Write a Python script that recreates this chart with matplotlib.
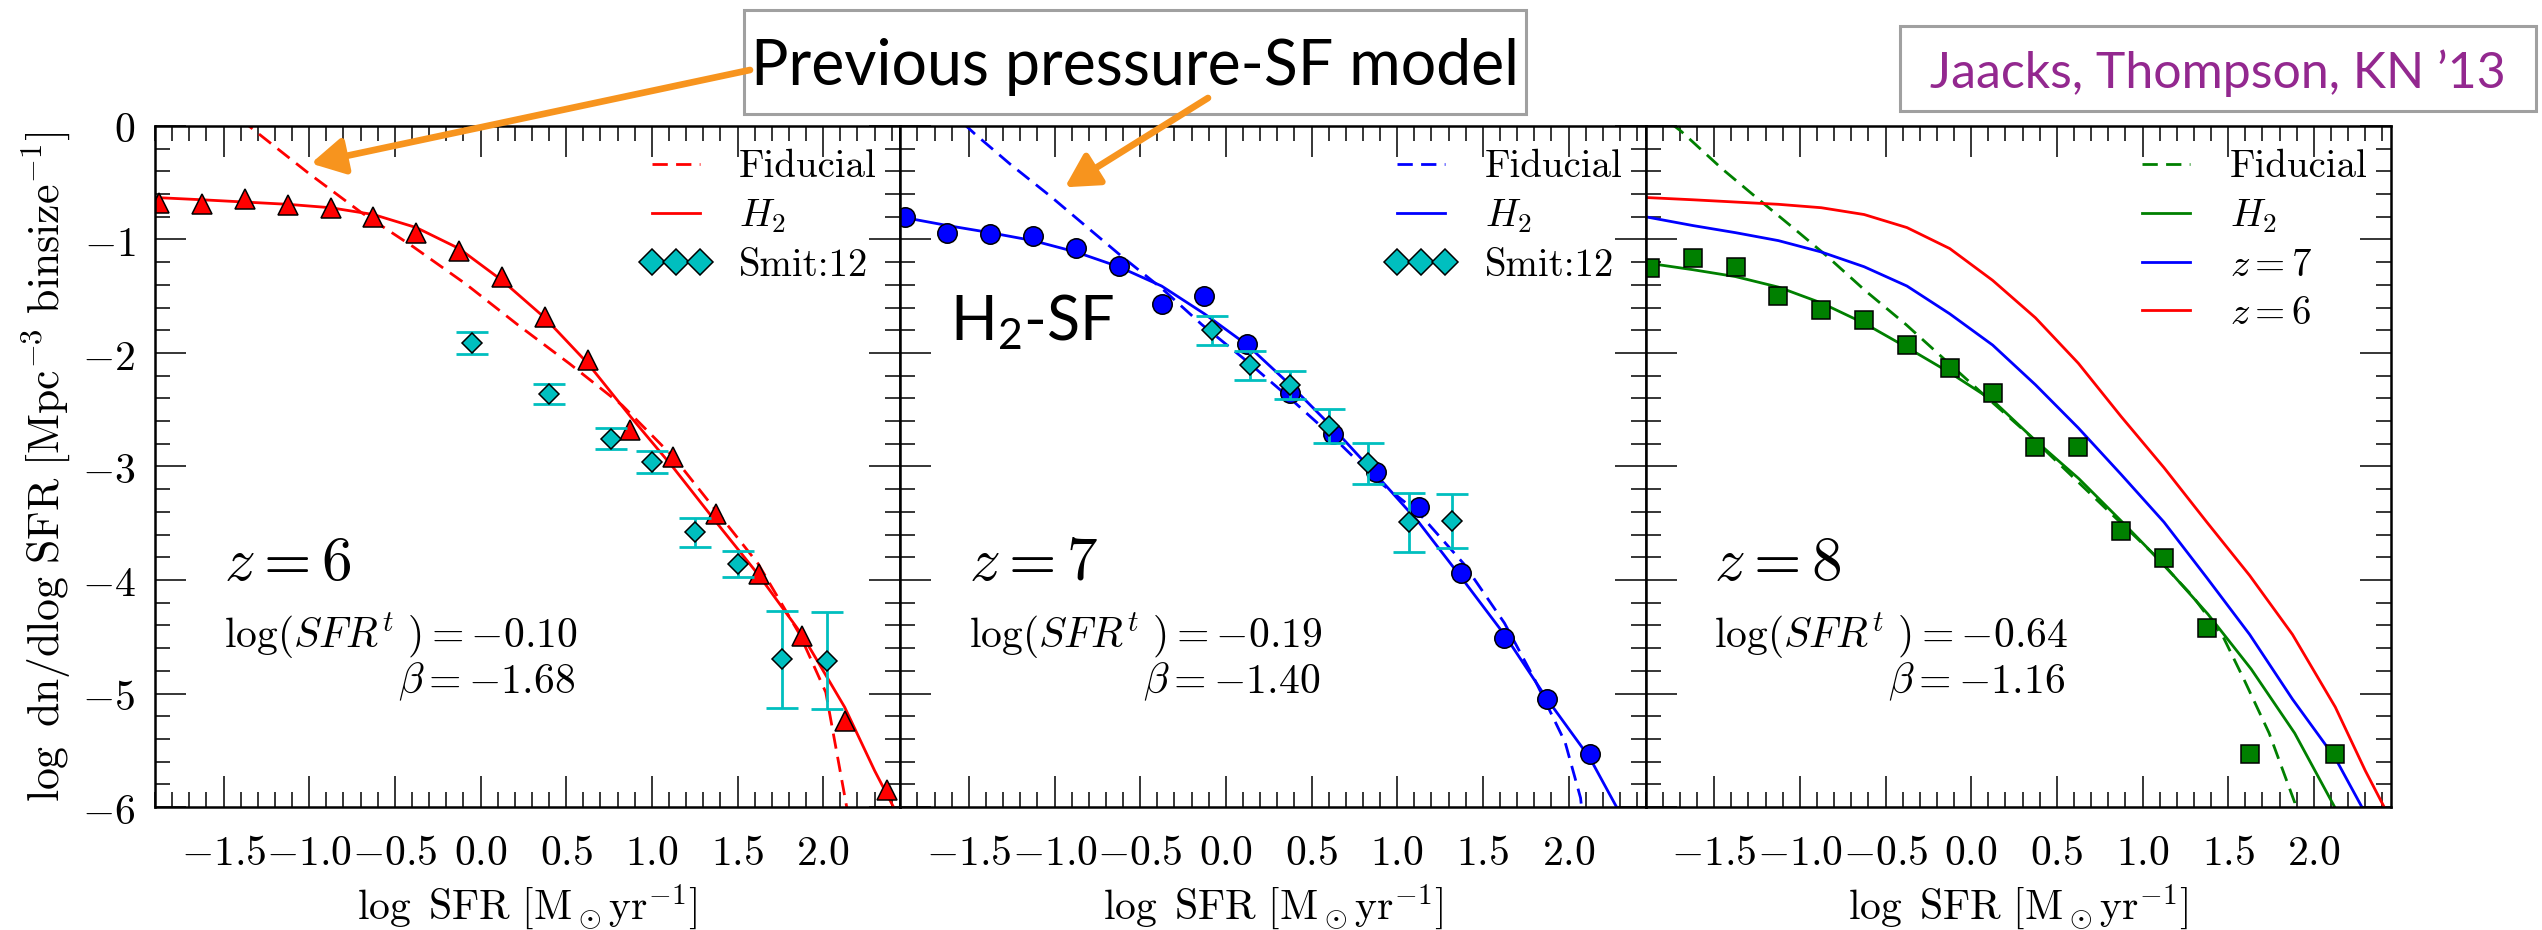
import matplotlib
matplotlib.use('Agg')
import matplotlib.pyplot as plt
from matplotlib.ticker import MultipleLocator
from matplotlib.patches import Rectangle

plt.rcParams['mathtext.fontset'] = 'cm'
plt.rcParams['mathtext.rm'] = 'Lato'
plt.rcParams['mathtext.it'] = 'Lato:italic'
plt.rcParams['mathtext.bf'] = 'Lato:bold'
plt.rcParams['mathtext.sf'] = 'Lato'
plt.rcParams['axes.unicode_minus'] = False

# ---------------- data ----------------
xticks = [-1.5, -1.0, -0.5, 0.0, 0.5, 1.0, 1.5, 2.0]
xticklabels = [r'$-1.5$', r'$-1.0$', r'$-0.5$', r'$0.0$', r'$0.5$', r'$1.0$', r'$1.5$', r'$2.0$']
yticks = [0, -1, -2, -3, -4, -5, -6]
yticklabels = [r'$0$', r'$-1$', r'$-2$', r'$-3$', r'$-4$', r'$-5$', r'$-6$']

# z=6 simulation (triangles)
sim6_x = [-1.875, -1.625, -1.375, -1.125, -0.875, -0.625, -0.375, -0.125, 0.125,
          0.375, 0.625, 0.875, 1.125, 1.375, 1.625, 1.875, 2.125, 2.375]
sim6_y = [-0.68, -0.69, -0.64, -0.70, -0.72, -0.80, -0.94, -1.10, -1.33,
          -1.68, -2.06, -2.68, -2.92, -3.42, -3.95, -4.49, -5.24, -5.85]
# z=7 simulation (circles)
sim7_x = [-1.875, -1.625, -1.375, -1.125, -0.875, -0.625, -0.375, -0.125, 0.125,
          0.375, 0.625, 0.875, 1.125, 1.375, 1.625, 1.875, 2.125]
sim7_y = [-0.80, -0.94, -0.955, -0.97, -1.076, -1.234, -1.57, -1.50, -1.92,
          -2.35, -2.71, -3.05, -3.36, -3.94, -4.51, -5.05, -5.53]
# z=8 simulation (squares)
sim8_x = [-1.875, -1.625, -1.375, -1.125, -0.875, -0.625, -0.375, -0.125, 0.125,
          0.375, 0.625, 0.875, 1.125, 1.375, 1.625, 2.125]
sim8_y = [-1.254, -1.165, -1.246, -1.50, -1.618, -1.71, -1.926, -2.128, -2.35,
          -2.83, -2.83, -3.57, -3.81, -4.42, -5.53, -5.53]

# Smit et al. 2012 observations
smit6_x = [-0.05, 0.40, 0.76, 1.00, 1.25, 1.50, 1.76, 2.02]
smit6_y = [-1.91, -2.36, -2.755, -2.96, -3.58, -3.86, -4.70, -4.71]
smit6_err = [0.095, 0.09, 0.095, 0.10, 0.13, 0.115, 0.43, 0.43]
smit7_x = [-0.08, 0.14, 0.375, 0.60, 0.83, 1.07, 1.32]
smit7_y = [-1.80, -2.11, -2.28, -2.64, -2.97, -3.49, -3.48]
smit7_err = [0.13, 0.125, 0.125, 0.15, 0.18, 0.26, 0.24]

# H2 model curves
h2_6_x = [-1.90, -1.625, -1.375, -1.125, -0.875, -0.625, -0.375, -0.125, 0.125, 0.375,
          0.625, 0.875, 1.125, 1.375, 1.625, 1.875, 2.125, 2.30, 2.41, 2.46]
h2_6_y = [-0.63, -0.65, -0.67, -0.69, -0.72, -0.78, -0.895, -1.08, -1.36, -1.69,
          -2.09, -2.56, -3.01, -3.49, -3.96, -4.48, -5.12, -5.68, -6.0, -6.2]
h2_7_x = [-1.90, -1.625, -1.375, -1.125, -0.875, -0.625, -0.375, -0.125, 0.125, 0.375,
          0.625, 0.875, 1.125, 1.375, 1.625, 1.875, 2.125, 2.28, 2.33]
h2_7_y = [-0.80, -0.877, -0.94, -1.01, -1.11, -1.24, -1.41, -1.655, -1.93, -2.28,
          -2.66, -3.07, -3.49, -3.98, -4.48, -5.05, -5.57, -6.0, -6.2]
h2_8_x = [-1.903, -1.625, -1.375, -1.124, -0.873, -0.622, -0.372, -0.121, 0.127, 0.381,
          0.628, 0.882, 1.13, 1.381, 1.634, 1.888, 2.121, 2.17]
h2_8_y = [-1.205, -1.266, -1.327, -1.42, -1.56, -1.74, -1.954, -2.177, -2.42, -2.78,
          -3.107, -3.49, -3.875, -4.30, -4.785, -5.35, -6.0, -6.2]

# Fiducial (pressure-SF) model curves
fid6_x = [-1.40, -1.308, -1.003, -0.698, -0.393, -0.088, 0.216, 0.52, 0.826,
          1.131, 1.375, 1.619, 1.863, 2.015, 2.137, 2.16]
fid6_y = [0.06, -0.053, -0.417, -0.76, -1.064, -1.39, -1.75, -2.095, -2.46,
          -2.925, -3.39, -3.855, -4.48, -4.99, -6.0, -6.2]
fid7_x = [-1.53, -1.465, -1.259, -1.023, -0.611, -0.375, -0.14, 0.125, 0.375, 0.625,
          0.89, 1.126, 1.39, 1.626, 1.80, 1.98, 2.07, 2.09]
fid7_y = [0.02, -0.07, -0.336, -0.62, -1.145, -1.43, -1.75, -2.075, -2.40, -2.74,
          -3.13, -3.41, -3.86, -4.38, -4.87, -5.43, -5.92, -6.2]
fid8_x = [-1.75, -1.694, -1.455, -1.246, -1.037, -0.843, -0.619, -0.38, -0.142, 0.097,
          0.336, 0.575, 0.813, 1.052, 1.291, 1.47, 1.59, 1.739, 1.888, 1.90]
fid8_y = [0.02, -0.045, -0.376, -0.64, -0.90, -1.145, -1.45, -1.75, -2.075, -2.40,
          -2.72, -3.066, -3.41, -3.754, -4.14, -4.50, -4.87, -5.35, -5.96, -6.2]

fit_text = [(r'$z=6$', r'$\log(SFR^{t}\ )=-0.10$', r'$\beta=-1.68$'),
            (r'$z=7$', r'$\log(SFR^{t}\ )=-0.19$', r'$\beta=-1.40$'),
            (r'$z=8$', r'$\log(SFR^{t}\ )=-0.64$', r'$\beta=-1.16$')]

# ---------------- figure ----------------
W, H = 2542, 930
fig = plt.figure(figsize=(W / 100, H / 100), dpi=100)
left_px, right_px, top_px, bot_px = 155, 2391, 126, 807
pw = (right_px - left_px) / 3.0
axes = []
for i in range(3):
    ax = fig.add_axes([(left_px + i * pw) / W, 1 - bot_px / H, pw / W, (bot_px - top_px) / H])
    axes.append(ax)

lw = 2.0
dash = (5.5, 3.0)
ms_sim = 14
ms_d = 10.5
mew = 1.1
leg_kw = dict(loc='upper right', frameon=False, numpoints=3, markerscale=1.25,
              prop={'family': 'cmr10', 'size': 28}, handlelength=1.83,
              handletextpad=0.72, labelspacing=0.32, borderaxespad=0.2, borderpad=0.4)

for i, ax in enumerate(axes):
    ax.set_xlim(-1.9, 2.45)
    ax.set_ylim(-6, 0)
    ax.set_xticks(xticks)
    ax.set_xticklabels(xticklabels)
    ax.set_yticks(yticks)
    if i == 0:
        ax.set_yticklabels(yticklabels)
    else:
        ax.set_yticklabels([])
    ax.xaxis.set_minor_locator(MultipleLocator(0.1))
    ax.yaxis.set_minor_locator(MultipleLocator(0.2))
    ax.tick_params(which='both', direction='in', top=True, right=True, width=1.1)
    ax.tick_params(which='major', length=22, labelsize=30)
    ax.tick_params(which='minor', length=11)
    ax.tick_params(axis='x', which='major', pad=18)
    ax.tick_params(axis='y', which='major', pad=14)
    for s in ax.spines.values():
        s.set_linewidth(1.8)
    ax.set_xlabel(r'$\log\ \mathrm{SFR}\ [\mathrm{M}_\odot\mathrm{yr}^{-1}]$', fontsize=30, labelpad=6)
    zt, lt, bt = fit_text[i]
    ax.text(-1.5, -4.0, zt, fontsize=44, va='baseline', ha='left')
    ax.text(-1.5, -4.6, lt, fontsize=30, va='baseline', ha='left')
    ax.text(0.55, -5.0, bt, fontsize=30, va='baseline', ha='right')

axes[0].set_ylabel(r'$\log\ \mathrm{dn/dlog\ SFR}\ [\mathrm{Mpc}^{-3}\ \mathrm{binsize}^{-1}]$',
                   fontsize=31.5, labelpad=7)

# panel 1: z=6
ax = axes[0]
ax.plot(fid6_x, fid6_y, color='r', lw=lw, ls='--', dashes=dash, label='Fiducial')
ax.plot(h2_6_x, h2_6_y, color='r', lw=lw, ls='-', label=r'$H_2$')
ax.plot(sim6_x, sim6_y, ls='none', marker='^', ms=ms_sim, mfc='r', mec='k', mew=mew)
ax.errorbar(smit6_x, smit6_y, yerr=smit6_err, fmt='none', ecolor='c', elinewidth=2,
            capsize=11.5, capthick=2)
ax.plot(smit6_x, smit6_y, ls='none', marker='D', ms=ms_d, mfc='c', mec='k', mew=mew, label='Smit:12')
ax.legend(**leg_kw)

# panel 2: z=7
ax = axes[1]
ax.plot(fid7_x, fid7_y, color='b', lw=lw, ls='--', dashes=dash, label='Fiducial')
ax.plot(h2_7_x, h2_7_y, color='b', lw=lw, ls='-', label=r'$H_2$')
ax.plot(sim7_x, sim7_y, ls='none', marker='o', ms=ms_sim, mfc='b', mec='k', mew=mew)
ax.errorbar(smit7_x, smit7_y, yerr=smit7_err, fmt='none', ecolor='c', elinewidth=2,
            capsize=11.5, capthick=2)
ax.plot(smit7_x, smit7_y, ls='none', marker='D', ms=ms_d, mfc='c', mec='k', mew=mew, label='Smit:12')
ax.legend(**leg_kw)
ax.text(-1.61, -1.89, r'$\mathrm{H}_{\mathrm{2}}$-SF', family='Lato', math_fontfamily='custom',
        fontsize=44, va='baseline', ha='left')

# panel 3: z=8
ax = axes[2]
ax.plot(fid8_x, fid8_y, color='g', lw=lw, ls='--', dashes=dash, label='Fiducial')
ax.plot(h2_8_x, h2_8_y, color='g', lw=lw, ls='-', label=r'$H_2$')
ax.plot(h2_7_x, h2_7_y, color='b', lw=lw, ls='-', label=r'$z=7$')
ax.plot(h2_6_x, h2_6_y, color='r', lw=lw, ls='-', label=r'$z=6$')
ax.plot(sim8_x, sim8_y, ls='none', marker='s', ms=ms_sim - 0.5, mfc='g', mec='k', mew=mew)
ax.legend(**leg_kw)

# annotation boxes
box1 = Rectangle((744 / W, 1 - 114 / H), (1526 - 744) / W, (114 - 10) / H,
                 transform=fig.transFigure, fc='white', ec='#a0a0a0', lw=2.2, zorder=-1)
fig.patches.append(box1)
fig.text(1135 / W, 1 - 85 / H, 'Previous pressure-SF model', family='Lato', fontsize=45,
         ha='center', va='baseline', color='black')
box2 = Rectangle((1900 / W, 1 - 111 / H), (2536 - 1900) / W, (111 - 26) / H,
                 transform=fig.transFigure, fc='white', ec='#a0a0a0', lw=2.2, zorder=-1)
fig.patches.append(box2)
fig.text(2218 / W, 1 - 88 / H, 'Jaacks, Thompson, KN \u201913', family='Lato', fontsize=36,
         ha='center', va='baseline', color='#93288F')

arrow_kw = dict(arrowstyle='-|>,head_length=1.0,head_width=0.55', color='#F7941E', lw=4.8,
                mutation_scale=20, shrinkA=0, shrinkB=0)
axes[0].annotate('', xy=(-0.99, -0.33), xycoords='data', xytext=(750 / W, 1 - 70 / H),
                 textcoords='figure fraction', arrowprops=arrow_kw, annotation_clip=False)
axes[1].annotate('', xy=(-0.94, -0.54), xycoords='data', xytext=(1208 / W, 1 - 98 / H),
                 textcoords='figure fraction', arrowprops=arrow_kw, annotation_clip=False)

fig.savefig('out.png', dpi=100)
